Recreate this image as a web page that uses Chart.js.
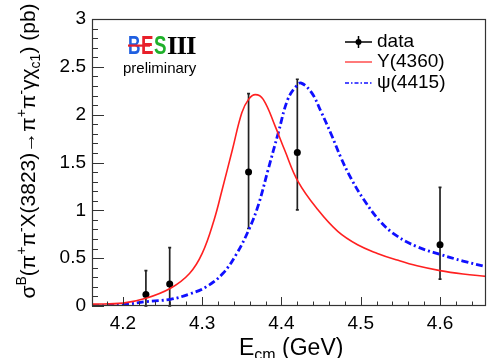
<!DOCTYPE html>
<html>
<head>
<meta charset="utf-8">
<script src="https://cdn.jsdelivr.net/npm/chart.js@4.4.1/dist/chart.umd.min.js"></script>
<style>
  html, body { margin: 0; padding: 0; background: #fff; }
  #wrap { width: 490px; height: 358px; position: relative; }
</style>
</head>
<body>
<div id="wrap"><canvas id="chart-id"></canvas></div>
<script>
// measured points with error bars (lower/upper edge of the bar)
var dataE     = [4.229, 4.259, 4.3585, 4.42, 4.60];
var dataSigma = [0.12, 0.23, 1.40, 1.605, 0.64];
var dataLow   = [0.0, 0.0, 0.81, 1.005, 0.28];
var dataHigh  = [0.37, 0.61, 2.22, 2.37, 1.24];

// fit curves
var y4360E = [4.161, 4.2, 4.229, 4.26, 4.284, 4.3, 4.315, 4.325, 4.338, 4.35, 4.3585, 4.367, 4.377,
              4.392, 4.404, 4.421, 4.446, 4.471, 4.496, 4.521, 4.546, 4.571, 4.6, 4.629, 4.658];
var y4360S = [0.02, 0.03, 0.08, 0.185, 0.34, 0.55, 0.90, 1.21, 1.63, 2.02, 2.16, 2.21, 2.16,
              1.88, 1.63, 1.30, 1.005, 0.78, 0.64, 0.55, 0.48, 0.42, 0.37, 0.335, 0.31];

var psi4415E = [4.161, 4.2, 4.229, 4.26, 4.284, 4.305, 4.326, 4.343, 4.359, 4.371, 4.383, 4.396, 4.408,
                4.419, 4.425, 4.438, 4.45, 4.463, 4.475, 4.488, 4.504, 4.525, 4.546, 4.571, 4.6, 4.629, 4.658];
var psi4415S = [0.0, 0.015, 0.045, 0.07, 0.125, 0.20, 0.34, 0.54, 0.80, 1.06, 1.42, 1.81, 2.16,
                2.30, 2.33, 2.23, 2.03, 1.79, 1.55, 1.33, 1.11, 0.88, 0.73, 0.62, 0.54, 0.47, 0.41];

var xTicks = [4.2, 4.3, 4.4, 4.5, 4.6];
var yTicks = [0, 0.5, 1, 1.5, 2, 2.5, 3];

var FONT = "'Liberation Sans', Arial, Helvetica, sans-serif";

function toXY(xs, ys) {
  return xs.map(function(x, i) { return {x: x, y: ys[i]}; });
}

// draw a list of [text, 'n'|'sup'|'sub'] pieces starting at (0,0) on the current transform
function piecesWidth(ctx, pieces, size) {
  var w = 0;
  pieces.forEach(function(p) {
    ctx.font = (p[1] == 'n' ? size : Math.round(size * 0.68)) + 'px ' + FONT;
    w += ctx.measureText(p[0]).width;
  });
  return w;
}
function drawPieces(ctx, pieces, size) {
  var x = 0;
  pieces.forEach(function(p) {
    var s = p[1] == 'n' ? size : Math.round(size * 0.68);
    var dy = p[1] == 'sup' ? -size * 0.42 : (p[1] == 'sub' ? size * 0.22 : 0);
    ctx.font = s + 'px ' + FONT;
    ctx.fillText(p[0], x, dy);
    x += ctx.measureText(p[0]).width;
  });
}

var frameAndDecor = {
  id: 'frameAndDecor',
  beforeDatasetDraw: function(chart, args) {
    if (args.index !== 2) return;
    var ctx = chart.ctx, xs = chart.scales.x, ys = chart.scales.y;
    ctx.save();
    ctx.strokeStyle = '#222';
    ctx.lineWidth = 1.7;
    dataE.forEach(function(e, i) {
      var px = xs.getPixelForValue(e);
      var y1 = ys.getPixelForValue(dataLow[i]), y2 = ys.getPixelForValue(dataHigh[i]);
      ctx.beginPath();
      ctx.moveTo(px, y1); ctx.lineTo(px, y2);
      ctx.moveTo(px - 1.5, y2); ctx.lineTo(px + 1.5, y2);
      ctx.moveTo(px - 1.5, y1); ctx.lineTo(px + 1.5, y1);
      ctx.stroke();
    });
    ctx.restore();
  },
  afterDraw: function(chart) {
    var ctx = chart.ctx, a = chart.chartArea;
    var xs = chart.scales.x, ys = chart.scales.y;
    ctx.save();

    // frame
    ctx.strokeStyle = '#333';
    ctx.lineWidth = 1.2;
    ctx.strokeRect(Math.round(a.left) + 0.5, Math.round(a.top) + 0.5,
                   Math.round(a.right - a.left) - 1, Math.round(a.bottom - a.top) - 1);

    // ticks inside the frame, ROOT style
    ctx.lineWidth = 1;
    ctx.beginPath();
    for (var k = 0; k <= 30; k++) {
      var v = Math.round((4.16 + k * 0.02) * 100) / 100;
      if (v < xs.min || v > xs.max) continue;
      var px = Math.round(xs.getPixelForValue(v)) + 0.5;
      var major = Math.abs(v * 10 - Math.round(v * 10)) < 1e-6;
      ctx.moveTo(px, a.bottom);
      ctx.lineTo(px, a.bottom - (major ? 9 : 4.5));
    }
    for (var j = 0; j <= 30; j++) {
      var py = Math.round(ys.getPixelForValue(j * 0.1)) + 0.5;
      ctx.moveTo(a.left, py);
      ctx.lineTo(a.left + (j % 5 === 0 ? 12 : 6), py);
    }
    ctx.stroke();

    // legend
    ctx.textBaseline = 'middle';
    ctx.textAlign = 'left';
    ctx.font = '19px ' + FONT;
    ctx.fillStyle = '#000';
    var lx0 = 345, lx1 = 372, tx = 377;
    ctx.strokeStyle = '#000'; ctx.lineWidth = 1.5;
    ctx.beginPath();
    ctx.moveTo(lx0, 42); ctx.lineTo(lx1, 42);
    ctx.moveTo((lx0 + lx1) / 2, 36); ctx.lineTo((lx0 + lx1) / 2, 48);
    ctx.stroke();
    ctx.beginPath(); ctx.arc((lx0 + lx1) / 2, 42, 3, 0, Math.PI * 2); ctx.fill();
    ctx.fillText('data', tx, 42);
    ctx.strokeStyle = '#ff2020'; ctx.lineWidth = 1.2;
    ctx.beginPath(); ctx.moveTo(lx0, 62); ctx.lineTo(lx1, 62); ctx.stroke();
    ctx.fillText('Y(4360)', tx, 62);
    ctx.strokeStyle = '#1010ff'; ctx.lineWidth = 1.5;
    ctx.setLineDash([4, 2, 1.5, 2]);
    ctx.beginPath(); ctx.moveTo(lx0, 83); ctx.lineTo(lx1, 83); ctx.stroke();
    ctx.setLineDash([]);
    ctx.fillText('\u03c8(4415)', tx, 83);

    // BESIII logo
    ctx.textBaseline = 'alphabetic';
    ctx.letterSpacing = '0px';
    ctx.font = 'bold 25px ' + FONT;
    var bx = 128;
    [['B', '#1f5fe0'], ['E', '#e8202a'], ['S', '#1fb02a']].forEach(function(l) {
      var lw = ctx.measureText(l[0]).width;
      ctx.save();
      ctx.translate(bx, 54);
      ctx.scale(12.5 / lw, 1);
      ctx.fillStyle = l[1];
      ctx.fillText(l[0], 0, 0);
      ctx.restore();
      bx += 13;
    });
    ctx.fillStyle = '#e8202a';
    ctx.fillRect(128, 44.5, 22, 2.2);
    ctx.fillStyle = '#000';
    ctx.font = 'bold 26px "Liberation Serif", "Times New Roman", serif';
    var iw = ctx.measureText('I').width;
    for (var n = 0; n < 3; n++) {
      ctx.save();
      ctx.translate(167 + n * 9.5, 54);
      ctx.scale(10.5 / iw, 1);
      ctx.fillText('I', 0, 0);
      ctx.restore();
    }
    ctx.font = '15px ' + FONT;
    ctx.fillText('preliminary', 123, 73);

    // axis titles
    var ySize = 21;
    var yTitle = [['\u03c3', 'n'], ['B', 'sup'], ['(\u03c0', 'n'], ['+', 'sup'], ['\u03c0', 'n'], ['-', 'sup'],
                  ['X(3823)\u2192\u03c0', 'n'], ['+', 'sup'], ['\u03c0', 'n'], ['-', 'sup'],
                  ['\u03b3\u03c7', 'n'], ['c1', 'sub'], [') (pb)', 'n']];
    var w = piecesWidth(ctx, yTitle, ySize);
    ctx.save();
    ctx.translate(35, 151 + w / 2);
    ctx.rotate(-Math.PI / 2);
    drawPieces(ctx, yTitle, ySize);
    ctx.restore();

    ctx.save();
    ctx.translate(239, 355);
    drawPieces(ctx, [['E', 'n'], ['cm', 'sub'], [' (GeV)', 'n']], 23);
    ctx.restore();

    ctx.restore();
  }
};

var ctx = document.getElementById('chart-id').getContext('2d');
var chart = new Chart(ctx, {
  type: 'scatter',
  data: {
    datasets: [
      {
        label: 'Y(4360)',
        data: toXY(y4360E, y4360S),
        showLine: true,
        borderColor: '#ff2020',
        borderWidth: 1.6,
        pointRadius: 0,
        tension: 0.4
      },
      {
        label: '\u03c8(4415)',
        data: toXY(psi4415E, psi4415S),
        showLine: true,
        borderColor: '#1010ff',
        borderWidth: 2.8,
        borderDash: [7, 3, 2, 3],
        pointRadius: 0,
        tension: 0.4
      },
      {
        label: 'data',
        data: toXY(dataE, dataSigma),
        showLine: false,
        pointRadius: 3.5,
        pointBackgroundColor: '#000',
        pointBorderColor: '#000',
        pointBorderWidth: 0
      }
    ]
  },
  options: {
    responsive: true,
    maintainAspectRatio: false,
    animation: false,
    layout: { padding: { top: 19, right: 0, left: 0, bottom: 0 } },
    plugins: { legend: { display: false }, tooltip: { enabled: false } },
    scales: {
      x: {
        type: 'linear',
        min: 4.161,
        max: 4.658,
        grid: { display: false, drawTicks: false },
        border: { display: false },
        afterBuildTicks: function(s) { s.ticks = xTicks.map(function(v) { return {value: v}; }); },
        afterFit: function(s) { s.height = 52; },
        ticks: {
          padding: 6,
          color: '#000',
          font: { family: FONT, size: 19 },
          maxRotation: 0,
          callback: function(v) { return v.toFixed(1); }
        }
      },
      y: {
        type: 'linear',
        min: 0,
        max: 3,
        grid: { display: false, drawTicks: false },
        border: { display: false },
        afterBuildTicks: function(s) { s.ticks = yTicks.map(function(v) { return {value: v}; }); },
        afterFit: function(s) { s.width = 92; },
        ticks: {
          padding: 6,
          color: '#000',
          font: { family: FONT, size: 19 },
          callback: function(v) { return String(v); }
        }
      }
    }
  },
  plugins: [frameAndDecor]
});
</script>
</body>
</html>
